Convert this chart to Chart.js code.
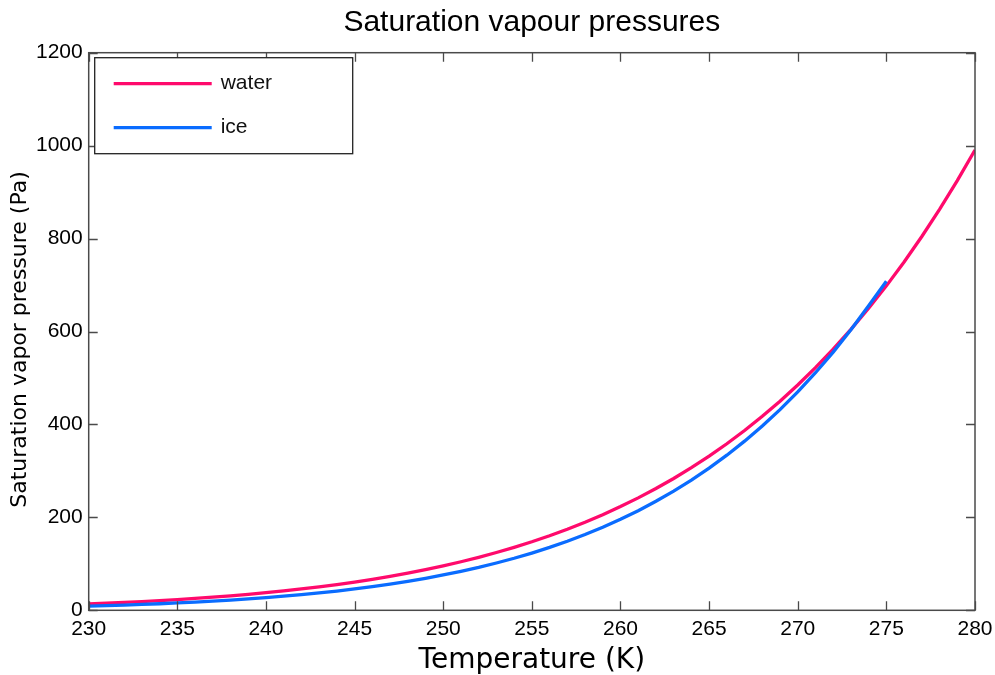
<!DOCTYPE html>
<html>
<head>
<meta charset="utf-8">
<script src="https://cdn.jsdelivr.net/npm/chart.js@4/dist/chart.umd.min.js"></script>
<style>
  html, body { margin: 0; padding: 0; background: #ffffff; }
  #wrap { width: 995px; height: 675px; }
</style>
</head>
<body>
<div id="wrap"><canvas id="c" width="995" height="675"></canvas></div>
<script>
// Temperatures (K), one per kelvin
const temperatures = [230,231,232,233,234,235,236,237,238,239,240,241,242,243,244,245,246,247,248,249,250,
  251,252,253,254,255,256,257,258,259,260,261,262,263,264,265,266,267,268,269,270,
  271,272,273,274,275,276,277,278,279,280];

// Saturation vapour pressure over liquid water (Pa)
const waterPressure = [13.6,15.2,16.9,18.7,20.8,23.0,25.5,28.2,31.1,34.3,37.9,
  41.7,45.9,50.5,55.4,60.8,66.7,73.1,80.0,87.5,95.7,
  104.5,114.0,124.4,135.5,147.5,160.5,174.5,189.5,205.7,223.2,
  241.9,262.0,283.7,306.9,331.7,358.4,386.9,417.4,450.1,485.0,
  522.3,562.1,604.6,649.9,698.2,749.6,804.4,862.7,924.7,990.6];

// Saturation vapour pressure over ice (Pa), up to 275 K
const iceTemperatures = [230,231,232,233,234,235,236,237,238,239,240,241,242,243,244,245,246,247,248,249,250,
  251,252,253,254,255,256,257,258,259,260,261,262,263,264,265,266,267,268,269,270,
  271,272,273,274,275];
const icePressure = [8.95,10.05,11.3,12.6,14.1,15.8,17.7,19.7,22.0,24.5,27.3,
  30.3,33.7,37.4,41.5,46.0,51.0,56.4,62.4,68.9,76.0,
  83.9,92.4,101.8,112.0,123.2,135.3,148.6,163.0,178.7,195.8,
  214.4,234.6,256.4,280.2,305.9,333.8,364.0,396.6,431.9,470.1,
  511.3,555.7,603.7,655.4,708.0];

// Axis ranges and tick steps
const xRange = [230, 280];
const xStep = 5;
const yRange = [0, 1200];
const yStep = 200;

const chartTitle = 'Saturation vapour pressures';
const xTitle = 'Temperature (K)';
const yTitle = 'Saturation vapor pressure (Pa)';
const seriesLabels = ['water', 'ice'];
const seriesColors = ['#ff0a6c', '#0a6cff'];

const toPoints = (xs, ys) => xs.map((x, i) => ({ x: x, y: ys[i] }));

// Frame around the plot area with inward ticks on all four sides
const frameTicks = {
  id: 'frameTicks',
  afterDraw(chart) {
    const { ctx, chartArea: a, scales } = chart;
    const len = 9;
    ctx.save();
    ctx.strokeStyle = '#4a4a4a';
    ctx.lineWidth = 1.3;
    ctx.beginPath();
    scales.x.ticks.forEach(t => {
      const px = Math.round(scales.x.getPixelForValue(t.value)) + 0.5;
      ctx.moveTo(px, a.bottom); ctx.lineTo(px, a.bottom - len);
      ctx.moveTo(px, a.top); ctx.lineTo(px, a.top + len);
    });
    scales.y.ticks.forEach(t => {
      const py = Math.round(scales.y.getPixelForValue(t.value)) + 0.5;
      ctx.moveTo(a.left, py); ctx.lineTo(a.left + len, py);
      ctx.moveTo(a.right, py); ctx.lineTo(a.right - len, py);
    });
    ctx.stroke();
    ctx.lineWidth = 1.5;
    ctx.strokeRect(a.left, a.top, a.right - a.left, a.bottom - a.top);
    ctx.restore();
  }
};

// Title centred over the plot area, and the rotated y-axis title
const titles = {
  id: 'titles',
  afterDraw(chart) {
    const { ctx, chartArea: a } = chart;
    ctx.save();
    ctx.fillStyle = '#000000';
    ctx.textAlign = 'center';
    ctx.textBaseline = 'middle';
    ctx.font = '30px "Liberation Sans", Arial, sans-serif';
    ctx.fillText(chartTitle, (a.left + a.right) / 2, 23);
    ctx.translate(20, (a.top + a.bottom) / 2 + 8);
    ctx.rotate(-Math.PI / 2);
    ctx.font = '22px "DejaVu Sans", sans-serif';
    ctx.fillText(yTitle, 0, 0);
    ctx.restore();
  }
};

// Boxed legend inside the upper-left corner of the plot area
const insetLegend = {
  id: 'insetLegend',
  afterDraw(chart) {
    const { ctx, chartArea: a } = chart;
    const bx = a.left + 6, by = a.top + 5, bw = 258, bh = 96;
    ctx.save();
    ctx.fillStyle = '#ffffff';
    ctx.fillRect(bx, by, bw, bh);
    ctx.strokeStyle = '#222222';
    ctx.lineWidth = 1.3;
    ctx.strokeRect(bx, by, bw, bh);
    ctx.font = '21px "Liberation Sans", Arial, sans-serif';
    ctx.textBaseline = 'middle';
    chart.data.datasets.forEach((ds, i) => {
      const y = by + 26 + i * 44;
      ctx.strokeStyle = ds.borderColor;
      ctx.lineWidth = 3.3;
      ctx.beginPath();
      ctx.moveTo(bx + 19, y);
      ctx.lineTo(bx + 117, y);
      ctx.stroke();
      ctx.fillStyle = '#111111';
      ctx.fillText(ds.label, bx + 126, y);
    });
    ctx.restore();
  }
};

new Chart(document.getElementById('c'), {
  type: 'line',
  data: {
    datasets: [
      {
        label: seriesLabels[0],
        data: toPoints(temperatures, waterPressure),
        borderColor: seriesColors[0],
        borderWidth: 3.3,
        pointRadius: 0,
        tension: 0,
        fill: false,
        order: 1
      },
      {
        label: seriesLabels[1],
        data: toPoints(iceTemperatures, icePressure),
        borderColor: seriesColors[1],
        borderWidth: 3.3,
        pointRadius: 0,
        tension: 0,
        fill: false,
        order: 0
      }
    ]
  },
  options: {
    responsive: false,
    animation: false,
    layout: { padding: { left: 0, right: 20, top: 52.7, bottom: 0 } },
    plugins: {
      legend: { display: false },
      tooltip: { enabled: false },
      title: { display: false }
    },
    scales: {
      x: {
        type: 'linear',
        min: xRange[0],
        max: xRange[1],
        grid: { display: false, drawTicks: false },
        border: { display: false },
        ticks: {
          stepSize: xStep,
          color: '#000000',
          padding: 6,
          maxRotation: 0,
          font: { family: '"Liberation Sans", Arial, sans-serif', size: 21 }
        },
        title: {
          display: true,
          text: xTitle,
          color: '#000000',
          font: { family: '"DejaVu Sans", sans-serif', size: 28, lineHeight: 1.0 },
          padding: { top: 2, bottom: 0 }
        },
        afterFit(scale) {
          scale.height = 64.7;
          scale.paddingLeft = 0;
          scale.paddingRight = 0;
        }
      },
      y: {
        min: yRange[0],
        max: yRange[1],
        grid: { display: false, drawTicks: false },
        border: { display: false },
        ticks: {
          stepSize: yStep,
          color: '#000000',
          padding: 6,
          callback: (v) => String(v),
          font: { family: '"Liberation Sans", Arial, sans-serif', size: 21 }
        },
        title: { display: false },
        afterFit(scale) {
          scale.width = 88.7;
          scale.paddingTop = 0;
          scale.paddingBottom = 0;
        }
      }
    }
  },
  plugins: [frameTicks, titles, insetLegend]
});
</script>
</body>
</html>
